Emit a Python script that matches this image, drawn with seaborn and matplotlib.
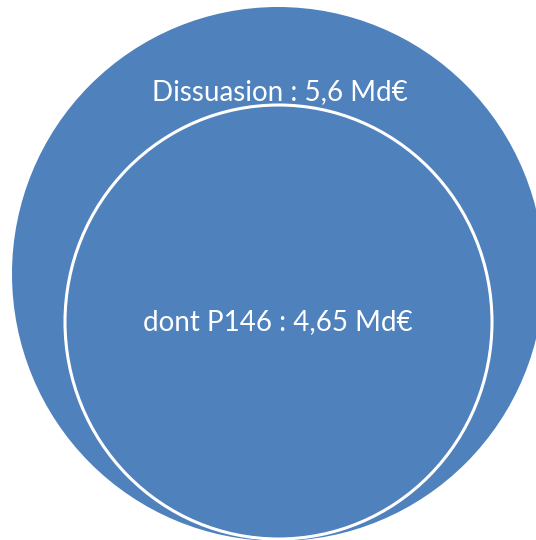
import matplotlib
matplotlib.use('Agg')
import matplotlib.pyplot as plt
from matplotlib.patches import Ellipse
import seaborn as sns

# --- Data ---
labels = ['Dissuasion', 'dont P146']
values = [5.6, 4.65]
unit = 'Md€'

# --- Layout (pixel coordinates of the picture) ---
W, H = 536, 540
outer_center, outer_size = (278, 274), (532, 534)
inner_center, inner_size = (278.5, 322), (427, 434)
label_pos = [(280, 92), (278, 322)]

sns.set_style('white')
plt.rcParams['font.family'] = ['Lato', 'DejaVu Sans']

fig = plt.figure(figsize=(W / 100, H / 100), dpi=100)
ax = fig.add_axes([0, 0, 1, 1])
ax.set_xlim(0, W)
ax.set_ylim(H, 0)
ax.set_aspect('equal')
ax.axis('off')

blue = '#4F81BD'
ax.add_patch(Ellipse(outer_center, *outer_size, facecolor=blue, edgecolor='none'))
ax.add_patch(Ellipse(inner_center, *inner_size, facecolor=blue, edgecolor='white', linewidth=2.2))

for lab, val, (x, y) in zip(labels, values, label_pos):
    txt = f"{lab} : {val:.2f}".rstrip('0').replace('.', ',') + f" {unit}"
    ax.text(x, y, txt, color='white', fontsize=20, ha='center', va='center')

plt.savefig('out.png', dpi=100)
plt.close()
